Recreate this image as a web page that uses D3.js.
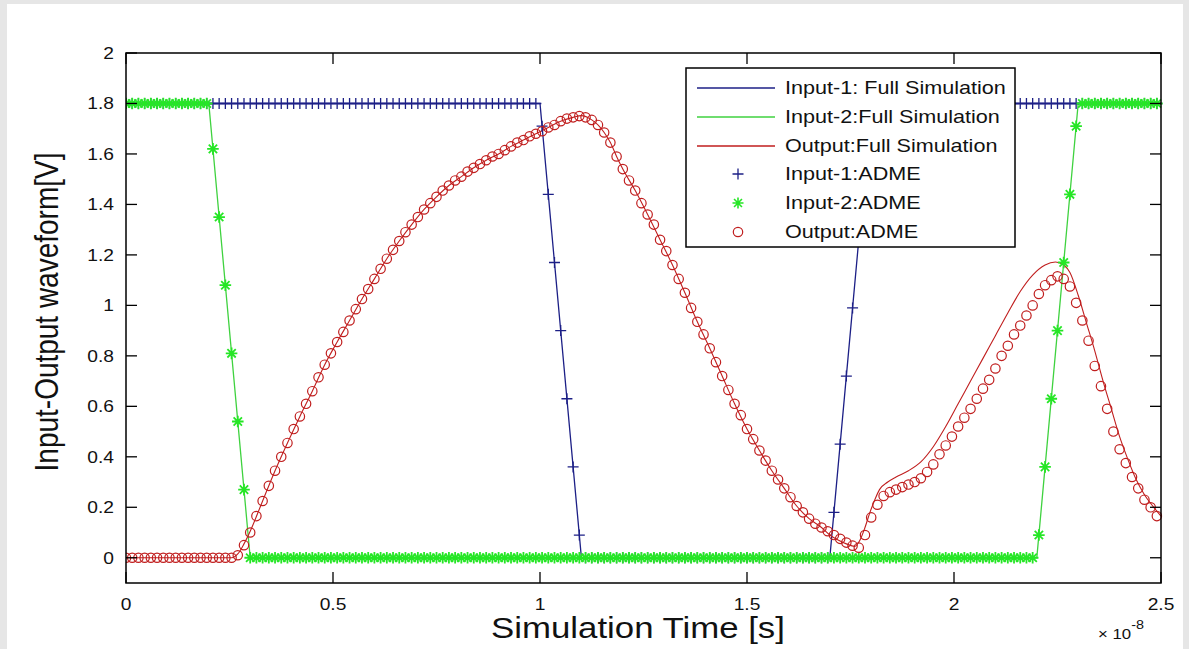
<!DOCTYPE html>
<html><head><meta charset="utf-8">
<script src="https://cdn.jsdelivr.net/npm/d3@7"></script>
<style>html,body{margin:0;padding:0;background:#e6e6e6;}svg{display:block;}</style>
</head><body>
<svg id="chart" width="1189" height="649"></svg>
<script>
// ---------------- DATA ----------------
const xTicks = [0, 0.5, 1, 1.5, 2, 2.5];
const xTickLabels = ["0", "0.5", "1", "1.5", "2", "2.5"];
const yTicks = [0, 0.2, 0.4, 0.6, 0.8, 1, 1.2, 1.4, 1.6, 1.8, 2];
const yTickLabels = ["0", "0.2", "0.4", "0.6", "0.8", "1", "1.2", "1.4", "1.6", "1.8", "2"];
const legendLabels = ["Input-1: Full Simulation", "Input-2:Full Simulation", "Output:Full Simulation",
                      "Input-1:ADME", "Input-2:ADME", "Output:ADME"];

// Full simulation waveforms (time in 1e-8 s, volts)
const input1FullT = [0, 1.0, 1.1, 1.7, 1.8, 2.5];
const input1FullV = [1.8, 1.8, 0, 0, 1.8, 1.8];
const input2FullT = [0, 0.2, 0.3, 2.2, 2.3, 2.5];
const input2FullV = [1.8, 1.8, 0, 0, 1.8, 1.8];
const outputFullT = [0, 0.255, 0.27, 0.285, 0.30, 0.33, 0.36, 0.39, 0.42, 0.45, 0.48, 0.51, 0.54, 0.57, 0.60, 0.63, 0.66, 0.69, 0.72, 0.75,
  0.78, 0.81, 0.84, 0.87, 0.90, 0.93, 0.96, 0.99, 1.02, 1.05, 1.08, 1.10, 1.125, 1.14, 1.155, 1.17, 1.185, 1.20, 1.23, 1.26,
  1.29, 1.32, 1.35, 1.38, 1.41, 1.44, 1.47, 1.50, 1.53, 1.56, 1.59, 1.62, 1.65, 1.68, 1.70, 1.72, 1.74, 1.76, 1.773, 1.785,
  1.797, 1.81, 1.82, 1.84, 1.86, 1.89, 1.92, 1.95, 1.98, 2.01, 2.04, 2.07, 2.10, 2.13, 2.16, 2.19, 2.22, 2.245, 2.265, 2.28,
  2.30, 2.32, 2.34, 2.36, 2.38, 2.40, 2.42, 2.44, 2.46, 2.48, 2.50];
const outputFullV = [0, 0, 0.015, 0.055, 0.105, 0.225, 0.345, 0.455, 0.56, 0.66, 0.765, 0.855, 0.94, 1.025, 1.105, 1.185, 1.255, 1.32, 1.38, 1.43,
  1.475, 1.51, 1.545, 1.575, 1.60, 1.63, 1.655, 1.68, 1.705, 1.73, 1.745, 1.752, 1.735, 1.715, 1.685, 1.645, 1.59, 1.54, 1.455, 1.36,
  1.26, 1.16, 1.05, 0.935, 0.83, 0.72, 0.61, 0.51, 0.425, 0.345, 0.275, 0.205, 0.155, 0.12, 0.09, 0.07, 0.055, 0.045, 0.07, 0.12,
  0.18, 0.235, 0.27, 0.30, 0.32, 0.345, 0.38, 0.44, 0.52, 0.61, 0.70, 0.79, 0.88, 0.97, 1.055, 1.12, 1.16, 1.172, 1.16, 1.13,
  1.04, 0.93, 0.82, 0.70, 0.59, 0.48, 0.39, 0.31, 0.25, 0.205, 0.165];

// ADME samples, one every 0.015 (x1e-8 s), starting at t = 0
const ADME_STEP = 0.015;
const input1Adme = [
  1.8,1.8,1.8,1.8,1.8,1.8,1.8,1.8,1.8,1.8, 1.8,1.8,1.8,1.8,1.8,1.8,1.8,1.8,1.8,1.8,
  1.8,1.8,1.8,1.8,1.8,1.8,1.8,1.8,1.8,1.8, 1.8,1.8,1.8,1.8,1.8,1.8,1.8,1.8,1.8,1.8,
  1.8,1.8,1.8,1.8,1.8,1.8,1.8,1.8,1.8,1.8, 1.8,1.8,1.8,1.8,1.8,1.8,1.8,1.8,1.8,1.8,
  1.8,1.8,1.8,1.8,1.8,1.8,1.8,
  1.71,1.44,1.17,0.9,0.63,0.36,0.09,
  0,0,0,0,0,0,0,0,0,0, 0,0,0,0,0,0,0,0,0,0, 0,0,0,0,0,0,0,0,0,0, 0,0,0,0,0,0,0,0,0,0,
  0.18,0.45,0.72,0.99,1.26,1.53,
  1.8,1.8,1.8,1.8,1.8,1.8,1.8,1.8,1.8,1.8, 1.8,1.8,1.8,1.8,1.8,1.8,1.8,1.8,1.8,1.8,
  1.8,1.8,1.8,1.8,1.8,1.8,1.8,1.8,1.8,1.8, 1.8,1.8,1.8,1.8,1.8,1.8,1.8,1.8,1.8,1.8,
  1.8,1.8,1.8,1.8,1.8,1.8,1.8];
const input2Adme = [
  1.8,1.8,1.8,1.8,1.8,1.8,1.8,1.8,1.8,1.8, 1.8,1.8,1.8,1.8,
  1.62,1.35,1.08,0.81,0.54,0.27,
  0,0,0,0,0,0,0,0,0,0, 0,0,0,0,0,0,0,0,0,0, 0,0,0,0,0,0,0,0,0,0, 0,0,0,0,0,0,0,0,0,0,
  0,0,0,0,0,0,0,0,0,0, 0,0,0,0,0,0,0,0,0,0, 0,0,0,0,0,0,0,0,0,0, 0,0,0,0,0,0,0,0,0,0,
  0,0,0,0,0,0,0,0,0,0, 0,0,0,0,0,0,0,0,0,0, 0,0,0,0,0,0,0,0,0,0, 0,0,0,0,0,0,0,0,0,0,
  0,0,0,0,0,0,0,
  0.09,0.36,0.63,0.9,1.17,1.44,1.71,
  1.8,1.8,1.8,1.8,1.8,1.8,1.8,1.8,1.8,1.8, 1.8,1.8,1.8];
const outputAdme = [
  0,0,0,0,0,0,0,0,0,0, 0,0,0,0,0,0,0,0,
  0.01,0.05,0.10,0.165,0.225,0.285,0.345,0.40,0.455,0.51,0.56,0.61,0.66,0.715,0.765,0.81,0.855,0.895,0.94,0.985,
  1.025,1.065,1.105,1.145,1.185,1.22,1.255,1.29,1.32,1.35,1.38,1.405,1.43,1.455,1.475,1.495,1.51,1.53,1.545,1.56,
  1.575,1.59,1.60,1.615,1.63,1.645,1.655,1.67,1.68,1.69,1.705,1.715,1.73,1.74,1.745,1.75,1.745,1.735,1.715,1.685,
  1.645,1.59,1.54,1.495,1.455,1.405,1.36,1.32,1.26,1.215,1.16,1.105,1.05,0.99,0.935,0.885,0.83,0.775,0.72,0.665,
  0.61,0.565,0.51,0.47,0.425,0.385,0.345,0.31,0.275,0.24,0.205,0.18,0.155,0.135,0.12,0.105,0.09,0.075,0.06,0.048,
  0.04,0.09,0.16,0.21,0.245,0.26,0.27,0.28,0.29,0.30,0.315,0.34,0.37,0.41,0.445,0.48,0.52,0.555,0.59,0.63,
  0.67,0.705,0.75,0.80,0.84,0.885,0.92,0.96,1.00,1.045,1.08,1.10,1.115,1.105,1.075,1.01,0.94,0.86,0.76,0.68,
  0.59,0.50,0.43,0.375,0.32,0.275,0.23,0.20,0.165];

// ---------------- DRAW ----------------
const W = 1189, H = 649;
const plot = {left: 126, right: 1161, top: 53, bottom: 583};
const COL_BLUE = "#1c1f86", COL_GREEN = "#26e626", COL_GREEN_LINE = "#3fd23f", COL_RED = "#c01e1e";
const FONT = "'Liberation Sans', Arial, Helvetica, sans-serif";
const STRETCH = 1.2;

const svg = d3.select("#chart");
svg.append("rect").attr("x", 0).attr("y", 0).attr("width", W).attr("height", H).attr("fill", "#e6e6e6");
svg.append("rect").attr("x", 7).attr("y", 4).attr("width", 1176).attr("height", 645).attr("fill", "#ffffff");

const x = d3.scaleLinear().domain([0, 2.5]).range([plot.left, plot.right]);
const y = d3.scaleLinear().domain([-0.1, 2]).range([plot.bottom, plot.top]);

svg.append("defs").append("clipPath").attr("id", "clip")
  .append("rect").attr("x", plot.left).attr("y", plot.top - 6)
  .attr("width", plot.right - plot.left + 6).attr("height", plot.bottom - plot.top + 6);

const g = svg.append("g").attr("clip-path", "url(#clip)");
const zip = (ts, vs) => ts.map((t, i) => [t, vs[i]]);
const line = d3.line().x(d => x(d[0])).y(d => y(d[1]));

g.append("path").datum(zip(input1FullT, input1FullV)).attr("d", line)
  .attr("fill", "none").attr("stroke", COL_BLUE).attr("stroke-width", 1.3);
g.append("path").datum(zip(input2FullT, input2FullV)).attr("d", line)
  .attr("fill", "none").attr("stroke", COL_GREEN_LINE).attr("stroke-width", 1.3);
g.append("path").datum(zip(outputFullT, outputFullV)).attr("d", line.curve(d3.curveMonotoneX))
  .attr("fill", "none").attr("stroke", COL_RED).attr("stroke-width", 1.1);

const tA = input1Adme.map((_, i) => i * ADME_STEP);

function plusPath(s) { return `M${-s},0H${s}M0,${-s}V${s}`; }
function starPath(s) { const d = s * 0.72; return `M${-s},0H${s}M0,${-s}V${s}M${-d},${-d}L${d},${d}M${-d},${d}L${d},${-d}`; }

g.append("g").selectAll("path").data(zip(tA, input1Adme)).join("path")
  .attr("transform", d => `translate(${x(d[0])},${y(d[1])})`)
  .attr("d", plusPath(5.5)).attr("stroke", COL_BLUE).attr("stroke-width", 1.3).attr("fill", "none");
g.append("g").selectAll("path").data(zip(tA, input2Adme)).join("path")
  .attr("transform", d => `translate(${x(d[0])},${y(d[1])})`)
  .attr("d", starPath(5.8)).attr("stroke", COL_GREEN).attr("stroke-width", 1.8).attr("fill", "none");
g.append("g").selectAll("circle").data(zip(tA, outputAdme)).join("circle")
  .attr("cx", d => x(d[0])).attr("cy", d => y(d[1])).attr("r", 4.7)
  .attr("stroke", COL_RED).attr("stroke-width", 1.2).attr("fill", "none");

// axes box and inward ticks
const axG = svg.append("g");
axG.append("rect").attr("x", plot.left).attr("y", plot.top)
  .attr("width", plot.right - plot.left).attr("height", plot.bottom - plot.top)
  .attr("fill", "none").attr("stroke", "#000").attr("stroke-width", 1.5);
const TL = 11;
xTicks.forEach(v => {
  axG.append("line").attr("x1", x(v)).attr("x2", x(v)).attr("y1", plot.bottom).attr("y2", plot.bottom - TL).attr("stroke", "#000").attr("stroke-width", 1.3);
  axG.append("line").attr("x1", x(v)).attr("x2", x(v)).attr("y1", plot.top).attr("y2", plot.top + TL).attr("stroke", "#000").attr("stroke-width", 1.3);
});
yTicks.forEach(v => {
  axG.append("line").attr("y1", y(v)).attr("y2", y(v)).attr("x1", plot.left).attr("x2", plot.left + TL).attr("stroke", "#000").attr("stroke-width", 1.3);
  axG.append("line").attr("y1", y(v)).attr("y2", y(v)).attr("x1", plot.right).attr("x2", plot.right - TL).attr("stroke", "#000").attr("stroke-width", 1.3);
});

function stretchedText(parent, tx, ty, str, size, anchor, extra) {
  const gg = parent.append("g").attr("transform", `translate(${tx},${ty}) scale(${STRETCH},1)` + (extra || ""));
  return gg.append("text").attr("x", 0).attr("y", 0).attr("text-anchor", anchor)
    .attr("font-family", FONT).attr("font-size", size).attr("fill", "#111").text(str);
}

xTicks.forEach((v, i) => stretchedText(axG, x(v), 610, xTickLabels[i], 16, "middle"));
yTicks.forEach((v, i) => stretchedText(axG, 114, y(v) + 6, yTickLabels[i], 16, "end"));

stretchedText(axG, 638, 638, "Simulation Time [s]", 29, "middle");
stretchedText(axG, 58, 312, "Input-Output waveform[V]", 28, "middle", " rotate(-90)");

// x10^-8
const ex = axG.append("g").attr("transform", `translate(1098,639) scale(${STRETCH},1)`);
const et = ex.append("text").attr("font-family", FONT).attr("font-size", 14).attr("fill", "#111");
et.append("tspan").text("\u00d7 10");
et.append("tspan").attr("dy", -10).attr("font-size", 12).text("-8");

// legend
const L = {x: 686, y: 68, w: 329, h: 179};
const lg = svg.append("g");
lg.append("rect").attr("x", L.x).attr("y", L.y).attr("width", L.w).attr("height", L.h)
  .attr("fill", "#fff").attr("stroke", "#000").attr("stroke-width", 1.5);
const rowY = [88, 117, 146, 174, 203, 232];
const legCols = [COL_BLUE, COL_GREEN_LINE, COL_RED];
legendLabels.forEach((lab, i) => {
  const yy = rowY[i];
  if (i < 3) {
    lg.append("line").attr("x1", 697).attr("x2", 775).attr("y1", yy).attr("y2", yy)
      .attr("stroke", legCols[i]).attr("stroke-width", 1.3);
  } else if (i === 3) {
    lg.append("path").attr("transform", `translate(738,${yy})`).attr("d", plusPath(5.5))
      .attr("stroke", COL_BLUE).attr("stroke-width", 1.3);
  } else if (i === 4) {
    lg.append("path").attr("transform", `translate(738,${yy})`).attr("d", starPath(5.5))
      .attr("stroke", COL_GREEN).attr("stroke-width", 1.6);
  } else {
    lg.append("circle").attr("cx", 738).attr("cy", yy).attr("r", 4.7)
      .attr("stroke", COL_RED).attr("stroke-width", 1.2).attr("fill", "none");
  }
  stretchedText(lg, 785, yy + 6, lab, 18, "start");
});
</script>
</body></html>
